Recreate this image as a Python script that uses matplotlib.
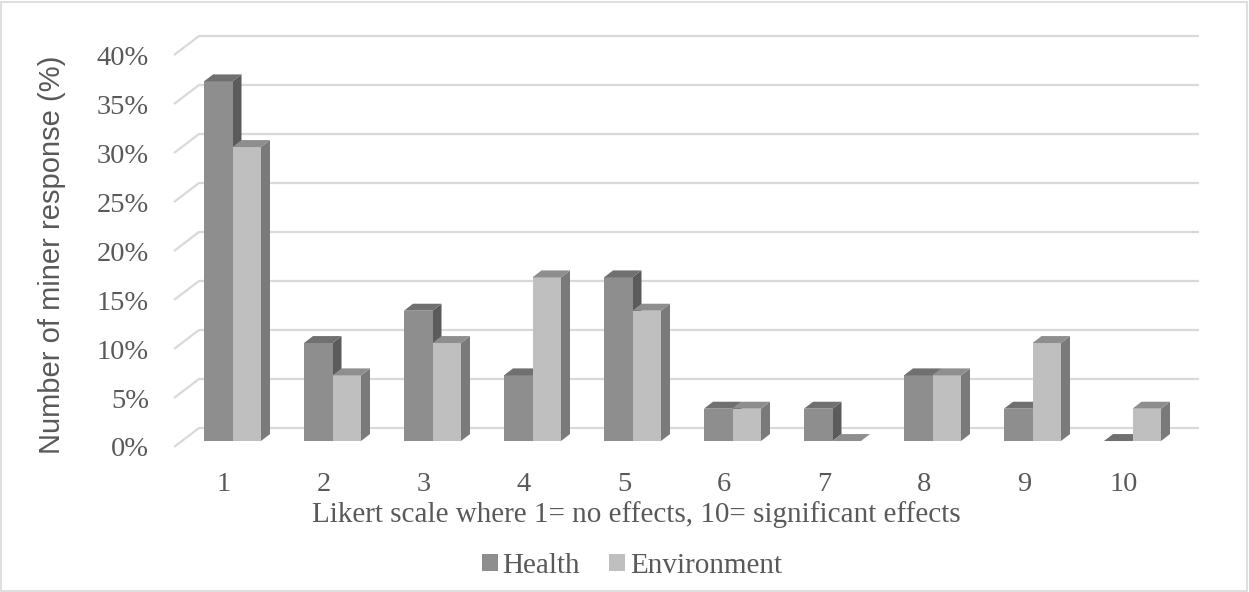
import matplotlib.pyplot as plt
from matplotlib.patches import Polygon, Patch, Rectangle

# values (percent of miners)
categories = [1, 2, 3, 4, 5, 6, 7, 8, 9, 10]
health = [36.7, 10.0, 13.3, 6.7, 16.7, 3.3, 3.3, 6.7, 3.3, 0.0]
environment = [30.0, 6.7, 10.0, 16.7, 13.3, 3.3, 0.0, 6.7, 10.0, 3.3]
yticks = [0, 5, 10, 15, 20, 25, 30, 35, 40]

TXT = '#595959'
GRID = '#d9d9d9'
# front / top / side shades for each series
H_COLS = ('#8e8e8e', '#707070', '#5b5b5b')
E_COLS = ('#bfbfbf', '#8e8e8e', '#7a7a7a')

W, H = 1249, 592
fig = plt.figure(figsize=(W / 100, H / 100), dpi=100)
fig.patches.append(Rectangle((1 / W, 1 / H), 1 - 3 / W, 1 - 3 / H, transform=fig.transFigure,
                             fill=False, edgecolor='#d9d9d9', linewidth=1.2))

# axes box: front floor left edge at x=174px, back wall right edge at 1199px
left, right, bottom, top = 174, 1199, 447, 36
ax = fig.add_axes([left / W, 1 - bottom / H, (right - left) / W, (bottom - top) / H])
ax.patch.set_visible(False)
floor_dx, floor_dy = 0.25, 1.94          # depth of the floor (cat units, percent)
ax.set_xlim(0.5, 10.5 + floor_dx)
ax.set_ylim(0, 40 + floor_dy)
for s in ax.spines.values():
    s.set_visible(False)

# back wall gridlines with the floor diagonal
for t in yticks:
    ax.plot([0.5, 0.5 + floor_dx, 10.5 + floor_dx], [t, t + floor_dy, t + floor_dy],
            color=GRID, linewidth=1.6, zorder=1, clip_on=False, solid_capstyle='butt')

bw = 0.285                       # bar width per series
off_x, off_y = 0.085, 0.61       # bar front position inside the floor depth
bdx, bdy = 0.09, 0.71            # bar depth


def draw_bar(x0, v, cols, z):
    x1 = x0 + bw
    b0 = off_y
    t0 = b0 + v
    if v > 0:
        ax.add_patch(Polygon([(x1, b0), (x1 + bdx, b0 + bdy), (x1 + bdx, t0 + bdy), (x1, t0)],
                             closed=True, facecolor=cols[2], edgecolor='none', zorder=z, clip_on=False))
        ax.add_patch(Polygon([(x0, b0), (x1, b0), (x1, t0), (x0, t0)],
                             closed=True, facecolor=cols[0], edgecolor='none', zorder=z + 0.1, clip_on=False))
    ax.add_patch(Polygon([(x0, t0), (x1, t0), (x1 + bdx, t0 + bdy), (x0 + bdx, t0 + bdy)],
                         closed=True, facecolor=cols[1], edgecolor='none', zorder=z + 0.1, clip_on=False))


for c, hv, ev in zip(categories, health, environment):
    center = c + off_x
    draw_bar(center - bw, hv, H_COLS, 2)
    draw_bar(center, ev, E_COLS, 3)

ax.set_yticks(yticks)
ax.set_yticklabels([f'{t}%' for t in yticks], fontfamily='Liberation Serif', fontsize=20.5, color=TXT)
ax.set_xticks(categories)
ax.set_xticklabels([str(c) for c in categories], fontfamily='Liberation Serif', fontsize=20.5, color=TXT)
ax.tick_params(axis='y', length=0, pad=18)
ax.tick_params(axis='x', length=0, pad=18)

fig.text(636 / W, 1 - 515 / H, 'Likert scale where 1= no effects, 10= significant effects',
         ha='center', va='center', fontfamily='Liberation Serif', fontsize=21, color=TXT)
fig.text(52 / W, 1 - 255 / H, 'Number of miner response (%)', rotation=90, ha='center', va='center',
         fontfamily='Liberation Sans', fontsize=21, color=TXT)

handles = [Patch(facecolor=H_COLS[0], label='Health'), Patch(facecolor=E_COLS[0], label='Environment')]
fig.legend(handles=handles, loc='center', bbox_to_anchor=(632 / W, 1 - 566 / H), ncol=2, frameon=False,
           prop={'family': 'Liberation Serif', 'size': 21}, handlelength=0.55, handleheight=0.55,
           handletextpad=0.15, columnspacing=1.0, labelcolor=TXT, borderpad=0)

fig.savefig('out.png', dpi=100)
